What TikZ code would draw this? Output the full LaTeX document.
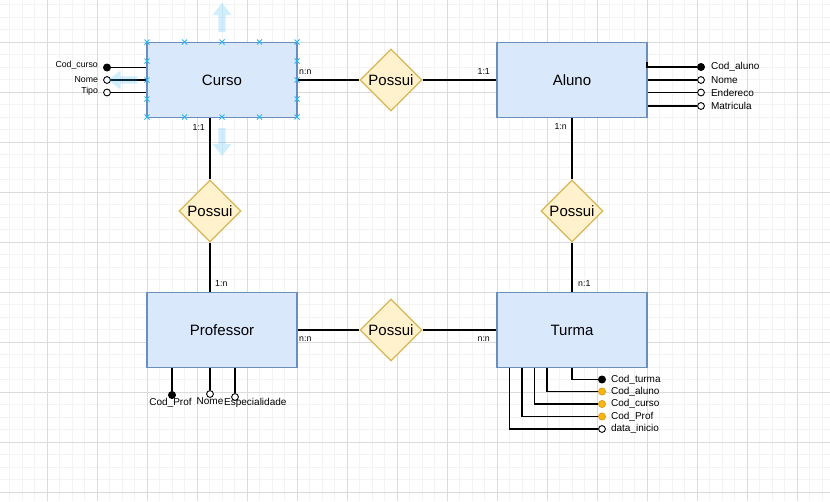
\documentclass[tikz,border=0pt]{standalone}
\usepackage{fontspec}
\setmainfont{Liberation Sans}
\definecolor{EntityFill}{RGB}{218,232,252}
\definecolor{EntityLine}{RGB}{108,142,191}
\definecolor{RelationFill}{RGB}{255,242,204}
\definecolor{RelationLine}{RGB}{214,182,86}
\definecolor{ForeignColor}{RGB}{248,180,20}
\definecolor{SelectColor}{RGB}{41,182,242}
\definecolor{GridMinor}{RGB}{243,243,243}
\definecolor{GridMajor}{RGB}{219,219,219}
\usepackage{tikz}
\usetikzlibrary{positioning, arrows.meta, shapes.geometric}
\tikzstyle{link} = [line width=1.2pt, black]
\tikzstyle{hover} = [fill=SelectColor, fill opacity=0.22]
\tikzset{
  entity/.style={rectangle, draw=EntityLine, fill=EntityFill, line width=1.2pt, minimum width=150pt, minimum height=75pt, font=\fontsize{15}{18}\selectfont},
  relation/.style={diamond, draw=RelationLine, fill=RelationFill, line width=1.2pt, minimum width=62pt, minimum height=62pt, inner sep=0pt, font=\fontsize{15}{18}\selectfont},
  pk dot/.style={circle, fill=black, draw=black, line width=0.9pt, inner sep=0pt, minimum size=7pt},
  attr dot/.style={circle, fill=white, draw=black, line width=0.9pt, inner sep=0pt, minimum size=6.8pt},
  fk dot/.style={circle, fill=ForeignColor, draw=ForeignColor!85!black, line width=0.6pt, inner sep=0pt, minimum size=7.2pt},
  card/.style={font=\fontsize{8.75}{10}\selectfont, inner sep=0pt},
  small label/.style={font=\fontsize{8.75}{10}\selectfont, inner sep=0pt},
  attr label/.style={font=\fontsize{10}{12}\selectfont, inner sep=0pt}
}
\begin{document}
\begin{tikzpicture}[x=1pt, y=-1pt]
    \useasboundingbox (0,0) rectangle (830,501);

    % Grid background
    \fill[white] (0,0) rectangle (830,501);
    \foreach \x in {9.5,22,...,830} {
            \draw[GridMinor, line width=0.8pt] (\x,0) -- (\x,501);
        }
    \foreach \y in {4.5,17,...,501} {
            \draw[GridMinor, line width=0.8pt] (0,\y) -- (830,\y);
        }
    \foreach \x in {47,97,...,797} {
            \draw[GridMajor, line width=0.8pt] (\x,0) -- (\x,501);
        }
    \foreach \y in {42,92,...,492} {
            \draw[GridMajor, line width=0.8pt] (0,\y) -- (830,\y);
        }

    % Entities
    \node[entity] (curso) at (222,80) {Curso};
    \node[entity] (aluno) at (572,80) {Aluno};
    \node[entity] (professor) at (222,330) {Professor};
    \node[entity] (turma) at (572,330) {Turma};

    % Relationships
    \node[relation] (possuiCA) at (391,80) {Possui};
    \node[relation] (possuiCP) at (210,211) {Possui};
    \node[relation] (possuiAT) at (572,211) {Possui};
    \node[relation] (possuiPT) at (391,330) {Possui};

    % Connectors
    \draw[link] (curso.east) -- (possuiCA.west);
    \draw[link] (possuiCA.east) -- (aluno.west);
    \draw[link] (possuiCP.north |- curso.south) -- (possuiCP.north);
    \draw[link] (possuiCP.south) -- (possuiCP.south |- professor.north);
    \draw[link] (aluno.south) -- (possuiAT.north);
    \draw[link] (possuiAT.south) -- (turma.north);
    \draw[link] (professor.east) -- (possuiPT.west);
    \draw[link] (possuiPT.east) -- (turma.west);

    % Cardinalities
    \node[card, anchor=base west] (cardCursoA) at (299,74.5) {n:n};
    \node[card, anchor=base east] (cardAluno) at (490,74.5) {1:1};
    \node[card, anchor=base east] (cardCursoP) at (205,130) {1:1};
    \node[card, anchor=base west] (cardProfC) at (215,286) {1:n};
    \node[card, anchor=base east] (cardAlunoT) at (567,129) {1:n};
    \node[card, anchor=base west] (cardTurmaA) at (578,286) {n:1};
    \node[card, anchor=base west] (cardProfT) at (299,341) {n:n};
    \node[card, anchor=base east] (cardTurmaP) at (490,341) {n:n};

    % Curso attributes
    \node[pk dot] (codCurso) at (107,67.5) {};
    \node[attr dot] (nomeCurso) at (107,80) {};
    \node[attr dot] (tipoCurso) at (107,92.5) {};
    \draw[link] (codCurso) -- (codCurso -| curso.west);
    \draw[link] (nomeCurso) -- (nomeCurso -| curso.west);
    \draw[link] (tipoCurso) -- (tipoCurso -| curso.west);
    \node[small label, left=5pt of codCurso, yshift=2pt] {Cod\_curso};
    \node[small label, left=5pt of nomeCurso] {Nome};
    \node[small label, left=5pt of tipoCurso, yshift=1pt] {Tipo};

    % Aluno attributes
    \node[pk dot] (codAluno) at (701,67) {};
    \node[attr dot] (nomeAluno) at (701,80) {};
    \node[attr dot] (enderecoAluno) at (701,92.5) {};
    \node[attr dot] (matriculaAluno) at (701,106) {};
    \coordinate (alunoTick) at (647,62);
    \draw[link] (alunoTick) |- (codAluno);
    \draw[link] (nomeAluno -| aluno.east) -- (nomeAluno);
    \draw[link] (enderecoAluno -| aluno.east) -- (enderecoAluno);
    \draw[link] (matriculaAluno -| aluno.east) -- (matriculaAluno);
    \node[attr label, right=6pt of codAluno] {Cod\_aluno};
    \node[attr label, right=6pt of nomeAluno] {Nome};
    \node[attr label, right=6pt of enderecoAluno] {Endereco};
    \node[attr label, right=6pt of matriculaAluno] {Matricula};

    % Professor attributes
    \node[pk dot] (codProf) at (172,395) {};
    \node[attr dot] (nomeProf) at (210,394) {};
    \node[attr dot] (especialidadeProf) at (235,397) {};
    \draw[link] (codProf |- professor.south) -- (codProf);
    \draw[link] (nomeProf |- professor.south) -- (nomeProf);
    \draw[link] (especialidadeProf |- professor.south) -- (especialidadeProf);
    \node[attr label, anchor=north] at (170.5,398) {Cod\_Prof};
    \node[attr label, anchor=north] at (210,397) {Nome};
    \node[attr label, anchor=north west] at (224,398.5) {Especialidade};

    % Turma attributes
    \node[pk dot] (codTurma) at (602,379.5) {};
    \node[fk dot] (codAlunoT) at (602,391.5) {};
    \node[fk dot] (codCursoT) at (602,404) {};
    \node[fk dot] (codProfT) at (602,416.5) {};
    \node[attr dot] (dataInicio) at (602,429) {};
    \draw[link] (turma.south) |- (codTurma);
    \draw[link] ([xshift=-25pt]turma.south) |- (codAlunoT);
    \draw[link] ([xshift=-37.5pt]turma.south) |- (codCursoT);
    \draw[link] ([xshift=-50pt]turma.south) |- (codProfT);
    \draw[link] ([xshift=-62.5pt]turma.south) |- (dataInicio);
    \node[attr label, right=5pt of codTurma] {Cod\_turma};
    \node[attr label, right=5pt of codAlunoT] {Cod\_aluno};
    \node[attr label, right=5pt of codCursoT] {Cod\_curso};
    \node[attr label, right=5pt of codProfT] {Cod\_Prof};
    \node[attr label, right=5pt of dataInicio] {data\_inicio};

    % Selection handles on Curso
    \foreach \x in {147,184.5,222,259.5,297} {
            \foreach \y in {42,117} {
                    \draw[SelectColor, line width=0.9pt] (\x-2.5,\y-2.5) -- (\x+2.5,\y+2.5) (\x-2.5,\y+2.5) -- (\x+2.5,\y-2.5);
                }
        }
    \foreach \x in {147,297} {
            \foreach \y in {61,80,99} {
                    \draw[SelectColor, line width=0.9pt] (\x-2.5,\y-2.5) -- (\x+2.5,\y+2.5) (\x-2.5,\y+2.5) -- (\x+2.5,\y-2.5);
                }
        }

    % Hover arrows
    \fill[hover] (222,3) -- (231.5,15) -- (225.7,15) -- (225.7,32) -- (218.3,32) -- (218.3,15) -- (212.5,15) -- cycle;
    \fill[hover] (108,80) -- (120.5,70.7) -- (120.5,76.3) -- (137,76.3) -- (137,83.7) -- (120.5,83.7) -- (120.5,89.3) -- cycle;
    \fill[hover] (222,155.7) -- (231.5,144) -- (225.7,144) -- (225.7,128) -- (218.3,128) -- (218.3,144) -- (212.5,144) -- cycle;
\end{tikzpicture}
\end{document}
